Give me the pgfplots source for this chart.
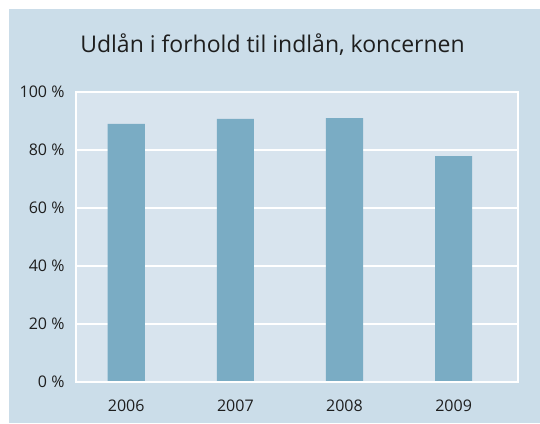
\documentclass[border=0pt]{standalone}
\usepackage{pgfplots}
\pgfplotsset{compat=1.18}
\usepackage{fontspec}
\setmainfont{Open Sans}
\definecolor{panel}{RGB}{203,221,233}
\definecolor{plotbg}{RGB}{216,228,238}
\definecolor{barc}{RGB}{122,172,196}
\definecolor{txt}{RGB}{30,30,30}
\begin{document}
\begin{tikzpicture}[x=1pt,y=1pt]
\fill[white] (0,0) rectangle (540,-423);
\fill[panel] (9,-9) rectangle (540,-423);
\node[font=\fontsize{23}{27}\selectfont, text=txt] at (272.5,-45) {Udlån i forhold til indlån, koncernen};
\begin{axis}[
  at={(76pt,-382pt)}, anchor=south west,
  scale only axis, width=442pt, height=290pt,
  xmin=-0.46, xmax=3.59, ymin=0, ymax=100,
  axis background/.style={fill=plotbg},
  xtick={0,1,2,3}, xticklabels={2006,2007,2008,2009},
  ytick={0,20,40,60,80,100},
  yticklabels={0 \%,20 \%,40 \%,60 \%,80 \%,100 \%},
  major tick length=0pt,
  ymajorgrids, grid style={white, line width=1.2pt},
  axis line style={white, line width=1.2pt},
  tick label style={font=\fontsize{16}{18}\selectfont, text=txt},
  yticklabel style={xshift=-8pt},
  xticklabel style={yshift=-14pt},
  ybar, bar width=0.34, bar shift=0pt,
]
\addplot[fill=barc, draw=none] coordinates {(0,89.0) (1,90.7) (2,91.0) (3,77.9)};
\draw[white, line width=2pt] (axis cs:-0.46,0) -- (axis cs:3.59,0);
\end{axis}
\end{tikzpicture}
\end{document}
